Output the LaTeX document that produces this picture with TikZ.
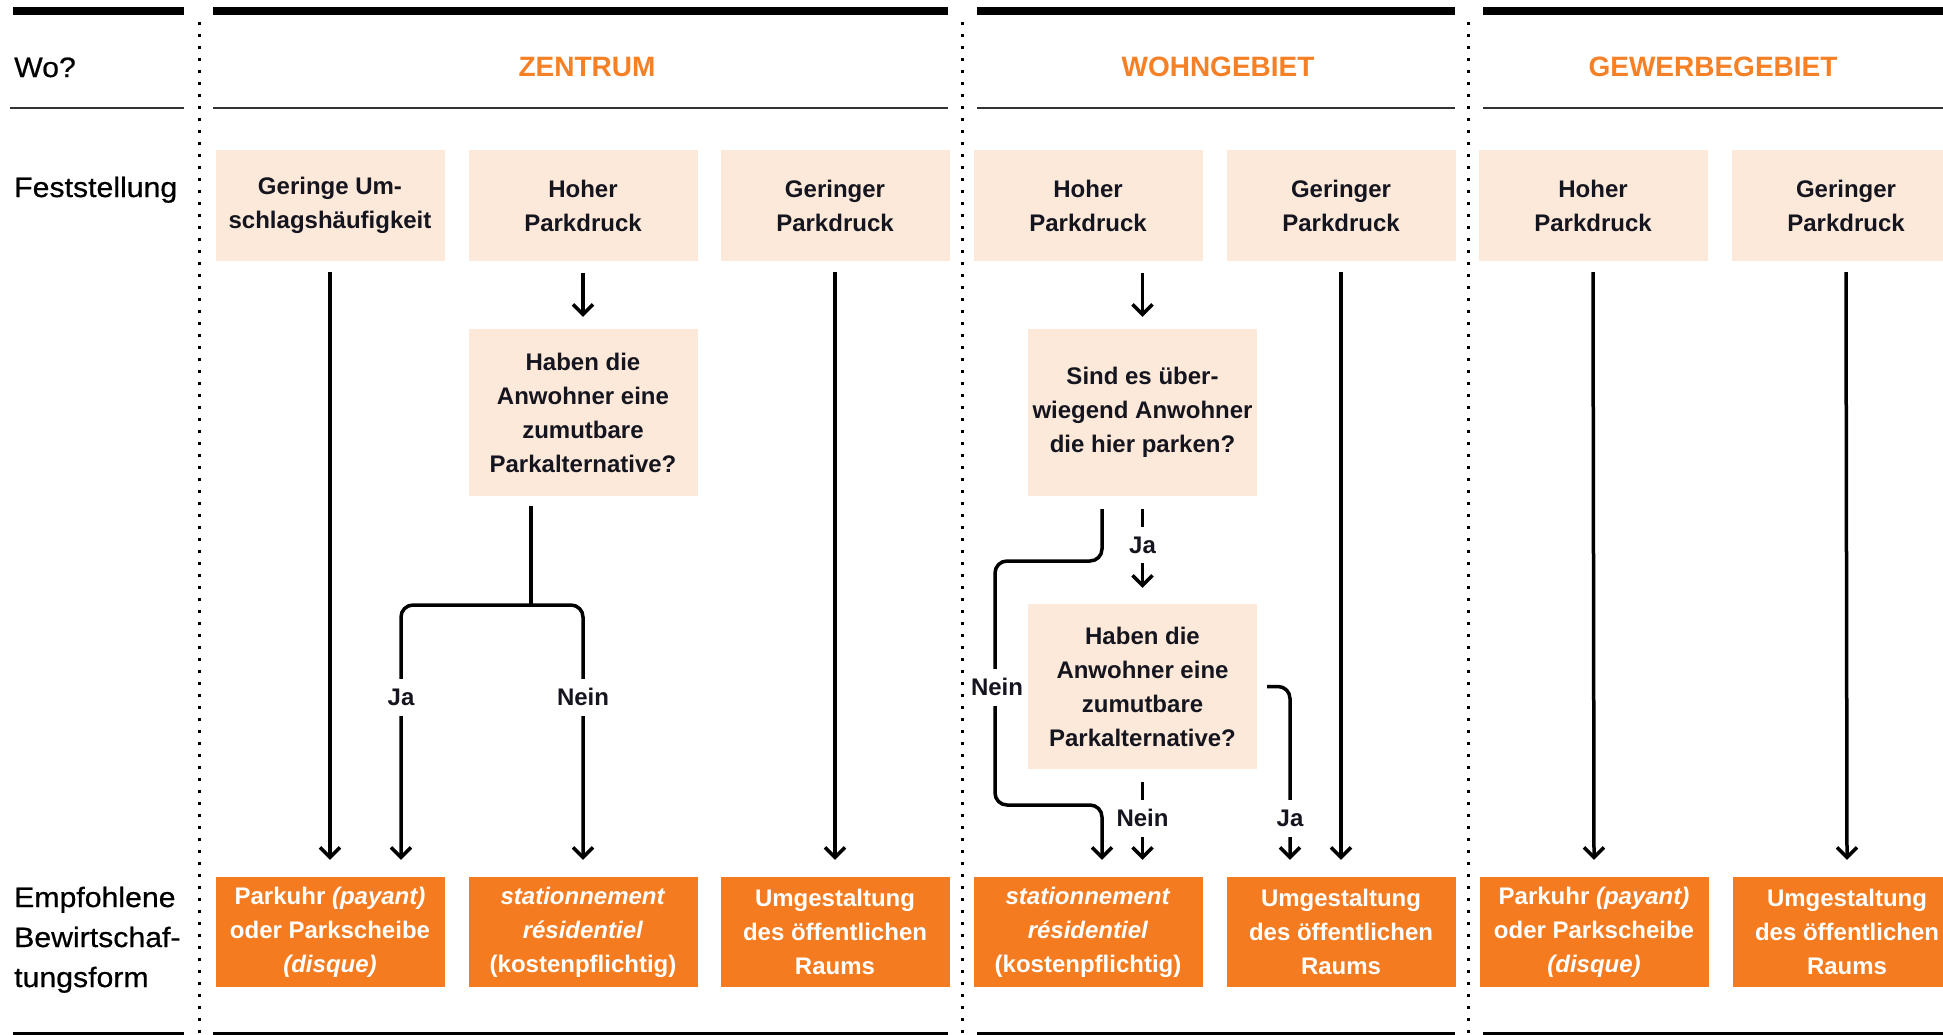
\documentclass[tikz,border=0pt]{standalone}
\usepackage{fontspec}
\setmainfont{Liberation Sans}
\newfontfamily\labfont[FakeStretch=1.08,FakeBold=0.6]{Liberation Sans}
\usetikzlibrary{arrows.meta,calc}
\definecolor{peach}{HTML}{FDE9DA}
\definecolor{orng}{HTML}{F47B20}
\definecolor{hdr}{HTML}{F58025}
\definecolor{ink}{HTML}{15151F}
\begin{document}
\begin{tikzpicture}[x=1pt,y=-1pt,
  tbox/.style={fill=peach, minimum width=229pt, minimum height=111pt, inner sep=0pt, align=center, text=ink, font=\fontsize{24}{34}\selectfont\bfseries},
  qbox/.style={tbox, minimum height=167pt},
  obox/.style={fill=orng, minimum width=229pt, minimum height=110pt, inner sep=0pt, align=center, text=white, font=\fontsize{24}{34}\selectfont\bfseries},
  ln/.style={line width=3.5pt, draw=black},
  arr/.style={ln, -{Straight Barb[length=10pt,width=20pt]}},
  rc/.style={rounded corners=12pt},
  lbl/.style={fill=white, inner xsep=4pt, inner ysep=0pt, minimum height=37pt, text=ink, font=\fontsize{24}{28}\selectfont\bfseries},
  rowlab/.style={inner sep=0pt, align=left, text=black, font=\labfont\fontsize{28}{40}\selectfont},
  hdrlab/.style={inner sep=0pt, text=hdr, font=\fontsize{28}{32}\selectfont\bfseries},
  bar/.style={line width=8pt, draw=black},
  thin/.style={line width=2pt, draw=black!80},
  sep/.style={line width=3pt, draw=black, dash pattern=on 3pt off 9pt}
]
\useasboundingbox (0,0) rectangle (1943,1034);

% rules
\foreach \a/\b in {13/184,213/948,977/1455,1483/1950}{
  \draw[bar] (\a,11) -- (\b,11);
  \draw[bar] (\a,1036) -- (\b,1036);
}
\foreach \a/\b in {10/184,213/948,977/1455,1483/1950}{
  \draw[thin] (\a,108) -- (\b,108);
}
\foreach \x in {199,962,1468}{
  \draw[sep] (\x,22) -- (\x,1034);
}

% row labels
\node[rowlab, anchor=base west] (wo) at (14,77) {Wo?};
\node[rowlab, anchor=base west] (fest) at (14,197) {Feststellung};
\node[rowlab, anchor=north west] (empf) at (14,886.5) {Empfohlene\\Bewirtschaf-\\tungsform};

% headers
\node[hdrlab, anchor=base] (hz) at (587,76) {ZENTRUM};
\node[hdrlab, anchor=base] (hw) at (1218,76) {WOHNGEBIET};
\node[hdrlab, anchor=base] (hg) at (1713,76) {GEWERBEGEBIET};

% top boxes
\node[tbox] (t1) at (330,205.5) {Geringe Um-\\schlagshäufigkeit};
\node[tbox] (t2) at (583,205.5) {Hoher\\Parkdruck};
\node[tbox] (t3) at (835,205.5) {Geringer\\Parkdruck};
\node[tbox] (t4) at (1088,205.5) {Hoher\\Parkdruck};
\node[tbox] (t5) at (1341,205.5) {Geringer\\Parkdruck};
\node[tbox] (t6) at (1593,205.5) {Hoher\\Parkdruck};
\node[tbox] (t7) at (1846,205.5) {Geringer\\Parkdruck};

% decision boxes
\node[qbox] (d1) at (583,412.5) {Haben die\\Anwohner eine\\zumutbare\\Parkalternative?};
\node[qbox] (d2) at (1142.5,412.5) {Sind es über-\\wiegend Anwohner\\die hier parken?};
\node[qbox, minimum height=165pt] (d3) at (1142.5,686.5) {Haben die\\Anwohner eine\\zumutbare\\Parkalternative?};

% bottom boxes
\node[obox] (b1) at (330,932) {Parkuhr \textit{(payant)}\\oder Parkscheibe\\\textit{(disque)}};
\node[obox] (b2) at (583,932) {\textit{stationnement}\\\textit{résidentiel}\\(kostenpflichtig)};
\node[obox] (b3) at (835,932) {Umgestaltung\\des öffentlichen\\Raums};
\node[obox] (b4) at (1088,932) {\textit{stationnement}\\\textit{résidentiel}\\(kostenpflichtig)};
\node[obox] (b5) at (1341,932) {Umgestaltung\\des öffentlichen\\Raums};
\node[obox] (b6) at (1594,932) {Parkuhr \textit{(payant)}\\oder Parkscheibe\\\textit{(disque)}};
\node[obox] (b7) at (1847,932) {Umgestaltung\\des öffentlichen\\Raums};

% connectors Zentrum
\draw[arr] ([yshift=-11pt]t1.south) -- ([yshift=17pt]b1.north);
\draw[arr] ([yshift=-12pt]t2.south) -- ([yshift=12pt]d1.north);
\coordinate (j1) at (531,605);
\draw[ln] ([xshift=-52pt,yshift=-10pt]d1.south) -- (j1);
\draw[arr,rc] (j1) -| ([xshift=71pt,yshift=17pt]b1.north);
\draw[arr,rc] (j1) -| ([yshift=17pt]b2.north);
\draw[arr] ([yshift=-11pt]t3.south) -- ([yshift=17pt]b3.north);

% connectors Wohngebiet
\draw[arr] ([xshift=54.5pt,yshift=-12pt]t4.south) -- ([yshift=12pt]d2.north);
\coordinate (n1) at (995,561);
\coordinate (n2) at (995,805);
\draw[arr,rc] ([xshift=-40.5pt,yshift=-13pt]d2.south) |- (n1) -- (n2) -| ([xshift=14pt,yshift=17pt]b4.north);
\draw[arr] ([yshift=-13pt]d2.south) -- ([yshift=16pt]d3.north);
\draw[arr] ([yshift=-13pt]d3.south) -- ([xshift=54.5pt,yshift=17pt]b4.north);
\draw[arr,rc] ([xshift=10pt]d3.east) -| ([xshift=-51pt,yshift=17pt]b5.north);
\draw[arr] ([yshift=-11pt]t5.south) -- ([yshift=17pt]b5.north);

% connectors Gewerbegebiet
\draw[arr] ([yshift=-11pt]t6.south) -- ([yshift=17pt]b6.north);
\draw[arr] ([yshift=-11pt]t7.south) -- ([yshift=17pt]b7.north);

% connector labels
\node[lbl] (l1) at (401,697) {Ja};
\node[lbl] (l2) at (583,697) {Nein};
\node[lbl] (l3) at (997,687) {Nein};
\node[lbl, minimum height=36pt] (l4) at (1142.5,545) {Ja};
\node[lbl] (l5) at (1142.5,818) {Nein};
\node[lbl] (l6) at (1290,818) {Ja};
\end{tikzpicture}
\end{document}
